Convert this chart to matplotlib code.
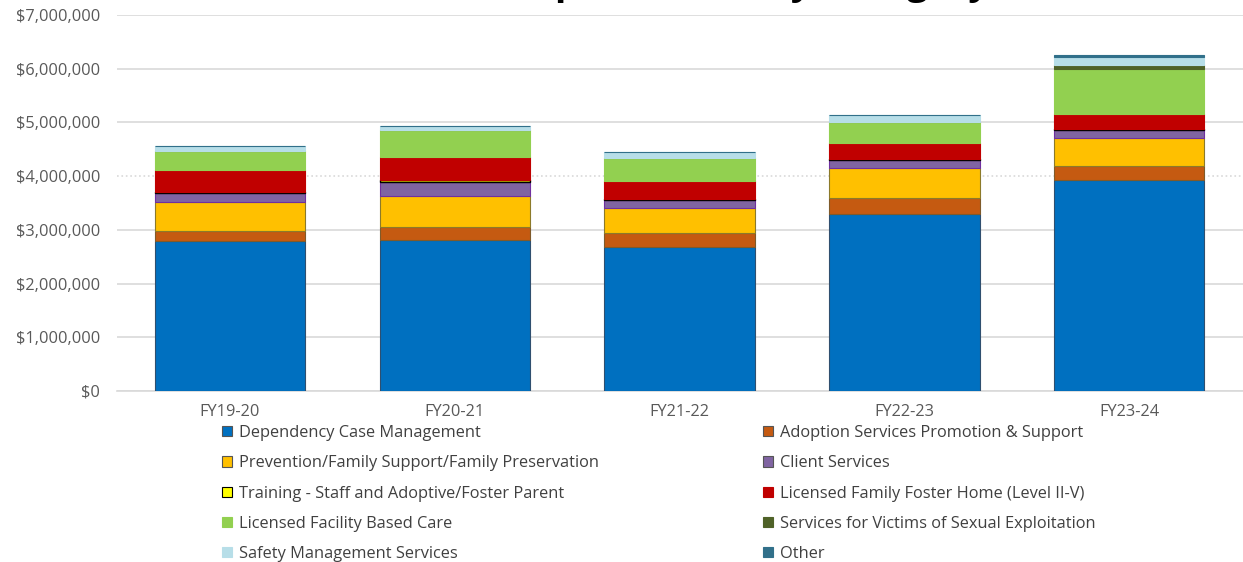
import matplotlib
matplotlib.use("Agg")
import matplotlib.pyplot as plt
from matplotlib.patches import Patch

# fiscal years on the x axis
years = ['FY19-20', 'FY20-21', 'FY21-22', 'FY22-23', 'FY23-24']

# expenditure per category, in dollars
dependency_case_mgmt = [2790000, 2810000, 2690000, 3300000, 3930000]
adoption_services = [195000, 250000, 260000, 290000, 265000]
prevention_family = [535000, 570000, 450000, 560000, 510000]
client_services = [175000, 270000, 160000, 150000, 145000]
training = [15000, 20000, 15000, 10000, 20000]
licensed_foster_home = [405000, 440000, 340000, 310000, 290000]
licensed_facility = [355000, 500000, 420000, 380000, 840000]
sexual_exploitation = [0, 0, 0, 0, 60000]
safety_management = [90000, 70000, 110000, 140000, 165000]
other = [0, 0, 0, 0, 25000]

labels = ['Dependency Case Management',
          'Adoption Services Promotion & Support',
          'Prevention/Family Support/Family Preservation',
          'Client Services',
          'Training - Staff and Adoptive/Foster Parent',
          'Licensed Family Foster Home (Level II-V)',
          'Licensed Facility Based Care',
          'Services for Victims of Sexual Exploitation',
          'Safety Management Services',
          'Other']
series = [dependency_case_mgmt, adoption_services, prevention_family,
          client_services, training, licensed_foster_home, licensed_facility,
          sexual_exploitation, safety_management, other]
colors = ['#0070C0', '#C55A11', '#FFC000', '#8064A2', '#FFFF00',
          '#C00000', '#92D050', '#4F6228', '#B7DEE8', '#31708A']
edges = ['#2F4F6F', '#7F5A2A', '#8C7A2A', '#7030A0', '#000000',
         '#C00000', '#92D050', '#4F6228', '#B7DEE8', '#31708A']

plt.rcParams['font.family'] = ['Open Sans', 'DejaVu Sans']

fig = plt.figure(figsize=(12.43, 5.62), dpi=100)
ax = fig.add_axes([117 / 1243, 1 - 391 / 562, 1 - 117 / 1243, 376 / 562])

x = list(range(len(years)))
bottom = [0] * len(years)
for vals, lab, c, ec in zip(series, labels, colors, edges):
  ax.bar(x, vals, width=0.67, bottom=bottom, color=c, edgecolor=ec,
         linewidth=1.0 if ec == '#000000' else 0.8, label=lab, zorder=3)
  bottom = [b + v for b, v in zip(bottom, vals)]

ax.set_xlim(-0.503, 4.507)
ax.set_ylim(0, 7000000)
ax.set_yticks(range(0, 7000001, 1000000))
ax.yaxis.set_major_formatter(matplotlib.ticker.FuncFormatter(lambda v, p: f'${v:,.0f}'))
ax.set_xticks(x)
ax.set_xticklabels(years)
ax.tick_params(axis='both', length=0, colors='#595959', labelsize=11.8)
ax.tick_params(axis='y', pad=12)
ax.tick_params(axis='x', pad=9)
ax.grid(axis='y', color='#D9D9D9', linewidth=1.2, zorder=0)
ax.get_ygridlines()[4].set_linestyle(':')
for s in ['top', 'right', 'left']:
  ax.spines[s].set_visible(False)
ax.spines['bottom'].set_color('#D9D9D9')
ax.spines['bottom'].set_linewidth(1.2)

# title sits mostly above the top edge, only descenders visible
fig.text(990 / 1243, 1.011, 'Total Expenditures by Category', ha='right',
         va='baseline', fontsize=27, fontweight='bold', color='black')

# legend filled row by row, two columns
handles = [Patch(facecolor=c, edgecolor=ec if ec == '#000000' else '#555555' if i < 4 else c,
                 linewidth=0.8, label=lab)
           for i, (c, ec, lab) in enumerate(zip(colors, edges, labels))]
order = [0, 2, 4, 6, 8, 1, 3, 5, 7, 9]
fig.legend([handles[i] for i in order], [labels[i] for i in order],
           loc='upper left', bbox_to_anchor=(222 / 1243, 1 - 425 / 562), ncol=2,
           frameon=False, fontsize=11.8, labelcolor='#404040',
           handlelength=0.6, handleheight=0.6, handletextpad=0.45,
           labelspacing=0.87, columnspacing=10.0, borderaxespad=0, borderpad=0)

fig.savefig('out.png', dpi=100)
